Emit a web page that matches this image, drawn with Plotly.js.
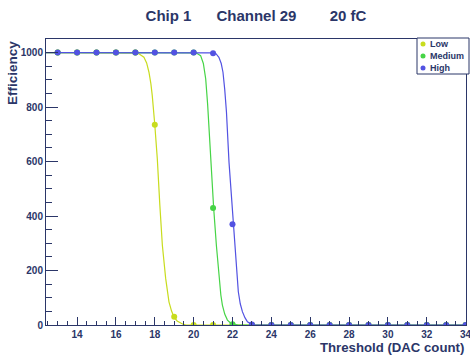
<!DOCTYPE html>
<html>
<head>
<meta charset="utf-8">
<script src="https://cdn.plot.ly/plotly-3.0.1.min.js"></script>
<style>html,body{margin:0;padding:0;background:#fff;}#chart{width:470px;height:355px;}</style>
</head>
<body>
<div id="chart"></div>
<script>
// Measured points (threshold in DAC counts)
const thresholds = [13,14,15,16,17,18,19,20,21,22,23,24,25,26,27,28,29,30,31,32,33,34];
const lowEff    = [1000,1000,1000,1000,1000,735,30,0,0,0,0,0,0,0,0,0,0,0,0,0,0,0];
const mediumEff = [1000,1000,1000,1000,1000,1000,1000,1000,430,3,0,0,0,0,0,0,0,0,0,0,0,0];
const highEff   = [1000,1000,1000,1000,1000,1000,1000,1000,998,370,2,0,0,0,0,0,0,0,0,0,0,0];

// Fit curves
const lowFitX = [12.4,16.8,17.0,17.2,17.44,17.58,17.70,17.80,17.87,18.0,18.13,18.26,18.39,18.56,18.73,18.86,18.98,19.15,19.3,19.45,19.6,34];
const lowFitY = [1000,1000,999,995,983,962,928,885,842,735,610,440,293,171,85,52,30,15,8,3,0,0];
const medFitX = [12.4,19.9,20.05,20.2,20.36,20.5,20.62,20.72,20.79,20.93,21.03,21.17,21.30,21.40,21.48,21.60,21.74,21.87,22.0,22.15,22.3,34];
const medFitY = [1000,1000,999,996,989,960,904,810,720,537,430,293,171,110,73,40,18,9,4,1,0,0];
const highFitX = [12.4,21.0,21.15,21.30,21.42,21.51,21.60,21.69,21.82,21.95,22.05,22.16,22.30,22.40,22.51,22.64,22.77,22.90,23.03,23.15,23.3,34];
const highFitY = [1000,999,996,983,960,928,865,781,598,470,369,244,122,78,49,27,12,6,3,1,0,0];

const seriesNames = ['Low','Medium','High'];
const colors = ['#c8dc1e','#46d446','#5252e2'];
const navy = '#2b3668';
const font = 'Liberation Sans, Arial, Helvetica, sans-serif';

const fits = [[lowFitX,lowFitY],[medFitX,medFitY],[highFitX,highFitY]];
const pts = [lowEff, mediumEff, highEff];

const traces = [];
for (let i = 0; i < 3; i++) {
  traces.push({
    x: fits[i][0], y: fits[i][1], mode: 'lines', type: 'scatter',
    line: {color: colors[i], width: 1.2, shape: 'linear'},
    hoverinfo: 'skip', showlegend: false
  });
  traces.push({
    x: thresholds, y: pts[i], mode: 'markers', type: 'scatter', name: seriesNames[i],
    marker: {color: colors[i], size: 6}, showlegend: false
  });
}

// Legend (drawn by hand)
const shapes = [{
  type: 'rect', xref: 'paper', yref: 'paper',
  x0: (417-46)/420, x1: (469-46)/420, y0: (325-74)/286, y1: (325-38)/286,
  line: {color: navy, width: 1}, fillcolor: '#ffffff', layer: 'above'
}];
const annotations = [];
const legY = [44, 56, 68];
for (let i = 0; i < 3; i++) {
  const yp = (325 - legY[i]) / 286;
  shapes.push({
    type: 'circle', xref: 'paper', yref: 'paper',
    xsizemode: 'pixel', ysizemode: 'pixel',
    xanchor: (423-46)/420, yanchor: yp,
    x0: -2.5, x1: 2.5, y0: -2.5, y1: 2.5,
    fillcolor: colors[i], line: {width: 0}, layer: 'above'
  });
  annotations.push({
    xref: 'paper', yref: 'paper', x: (428-46)/420, y: yp,
    xanchor: 'left', yanchor: 'middle', showarrow: false,
    text: '<b>' + seriesNames[i] + '</b>',
    font: {family: font, size: 9, color: navy}
  });
}
annotations.push({
  xref: 'paper', yref: 'paper', x: (12-46)/420, y: 1.0,
  xanchor: 'center', yanchor: 'top', showarrow: false, textangle: -90,
  text: '<b>Efficiency</b>', font: {family: font, size: 13.5, color: navy}
});
annotations.push({
  xref: 'paper', yref: 'paper', x: 1.0, y: (325-347)/286,
  xanchor: 'right', yanchor: 'middle', showarrow: false,
  text: '<b>Threshold (DAC count)</b>', font: {family: font, size: 13.2, color: navy}
});

const layout = {
  width: 470, height: 355,
  margin: {l: 46, r: 4, t: 39, b: 30, pad: 0},
  paper_bgcolor: '#ffffff', plot_bgcolor: '#ffffff',
  showlegend: false,
  title: {
    text: '<b>Chip 1&nbsp;&nbsp;&nbsp;&nbsp;&nbsp;&nbsp;Channel 29&nbsp;&nbsp;&nbsp;&nbsp;&nbsp;&nbsp;&nbsp;&nbsp;20 fC</b>',
    font: {family: font, size: 15, color: navy},
    x: 0.5, xref: 'paper', xanchor: 'center', y: 1 - 16/355, yanchor: 'middle'
  },
  xaxis: {
    range: [12.4, 34.02], dtick: 2, tick0: 0,
    ticks: 'inside', ticklen: 8, tickwidth: 1, tickcolor: navy,
    minor: {dtick: 0.5, tick0: 0, ticks: 'inside', ticklen: 4, tickcolor: navy, showgrid: false},
    showgrid: false, zeroline: false,
    showline: true, mirror: true, linecolor: navy, linewidth: 1,
    tickfont: {family: font, size: 10, color: navy, weight: 'bold'},
    ticklabeloverflow: 'allow',
    fixedrange: true
  },
  yaxis: {
    range: [0, 1050], dtick: 200, tick0: 0,
    ticks: 'inside', ticklen: 12, tickwidth: 1, tickcolor: navy,
    minor: {dtick: 50, tick0: 0, ticks: 'inside', ticklen: 6, tickcolor: navy, showgrid: false},
    showgrid: false, zeroline: false,
    showline: true, mirror: true, linecolor: navy, linewidth: 1,
    tickfont: {family: font, size: 10, color: navy, weight: 'bold'},
    fixedrange: true
  },
  shapes: shapes,
  annotations: annotations
};

Plotly.newPlot('chart', traces, layout, {displayModeBar: false, staticPlot: true});
</script>
</body>
</html>
